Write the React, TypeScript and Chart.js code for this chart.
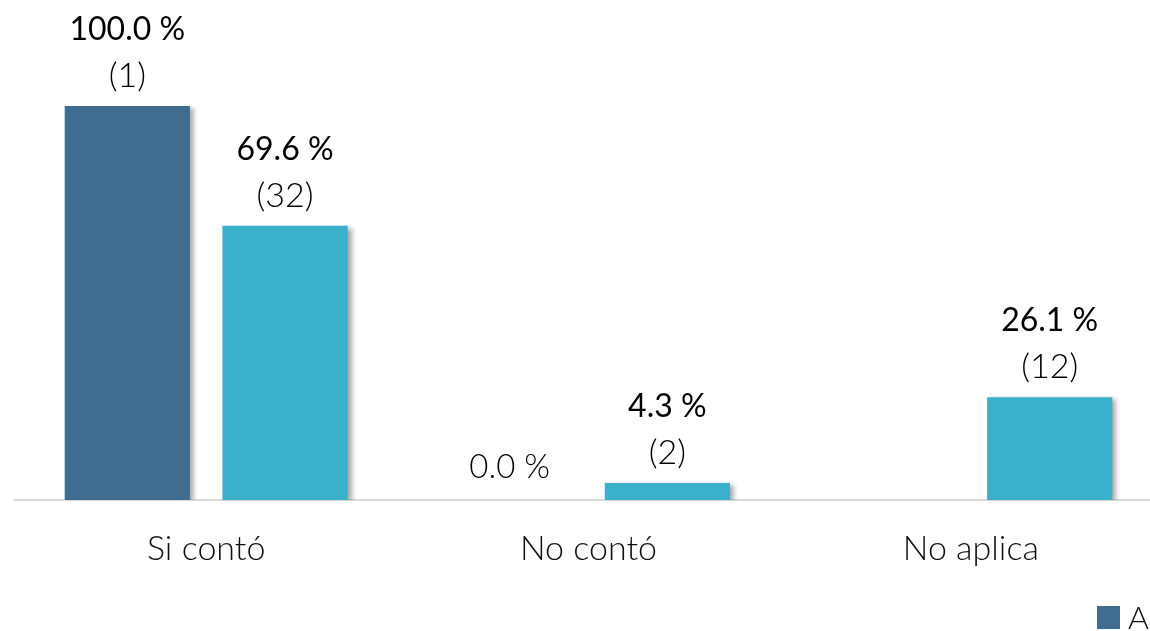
import React, { useEffect, useRef } from "react";
import { Chart, registerables } from "chart.js";

Chart.register(...registerables);

const categories = ["Si contó", "No contó", "No aplica"];
const seriesNames = ["A", "B"];
const valuesA: (number | null)[] = [100.0, 0.0, null];
const valuesB: (number | null)[] = [69.6, 4.3, 26.1];
const countsA: (number | null)[] = [1, 0, null];
const countsB: (number | null)[] = [32, 2, 12];
const colorA = "#3f6c8f";
const colorB = "#3ab0ca";
const FONT = "Lato, 'Open Sans', sans-serif";

const counts = [countsA, countsB];

const shadowPlugin = {
  id: "barShadow",
  beforeDatasetDraw(chart: any) {
    const ctx = chart.ctx;
    ctx.save();
    ctx.shadowColor = "rgba(0,0,0,0.35)";
    ctx.shadowBlur = 5;
    ctx.shadowOffsetX = 4;
    ctx.shadowOffsetY = 2;
  },
  afterDatasetDraw(chart: any) {
    chart.ctx.restore();
  },
};

const labelPlugin = {
  id: "barLabels",
  afterDatasetsDraw(chart: any) {
    const ctx = chart.ctx;
    chart.data.datasets.forEach((ds: any, di: number) => {
      const meta = chart.getDatasetMeta(di);
      meta.data.forEach((bar: any, i: number) => {
        const v = ds.data[i];
        if (v == null) return;
        const x = bar.x;
        const y = bar.y;
        ctx.save();
        ctx.textAlign = "center";
        ctx.textBaseline = "alphabetic";
        ctx.fillStyle = "#000000";
        const pct = v.toFixed(1) + " %";
        if (v === 0) {
          ctx.font = `300 33px ${FONT}`;
          ctx.fillText(pct, x, y - 22);
        } else {
          ctx.font = `400 32px ${FONT}`;
          ctx.fillText(pct, x, y - 66);
          ctx.font = `300 34px ${FONT}`;
          ctx.fillText(`(${counts[di][i]})`, x, y - 19);
        }
        ctx.restore();
      });
    });
  },
};

export default function App() {
  const ref = useRef<HTMLCanvasElement | null>(null);
  useEffect(() => {
    if (!ref.current) return;
    const chart = new Chart(ref.current, {
      type: "bar",
      data: {
        labels: categories,
        datasets: [
          { label: seriesNames[0], data: valuesA, backgroundColor: colorA },
          { label: seriesNames[1], data: valuesB, backgroundColor: colorB },
        ],
      },
      options: {
        animation: false,
        responsive: false,
        devicePixelRatio: 1,
        layout: { padding: { left: 15, right: 38, top: 106, bottom: 0 } },
        datasets: { bar: { categoryPercentage: 0.825, barPercentage: 0.794 } },
        plugins: { legend: { display: false }, tooltip: { enabled: false } },
        scales: {
          x: {
            grid: { display: false, drawTicks: false },
            border: { display: true, color: "#d9d9d9", width: 2 },
            ticks: { color: "#111111", font: { family: FONT, size: 34, weight: "300" as any }, padding: 29 },
            afterFit: (scale: any) => { scale.height = 131; },
          },
          y: { display: false, min: 0, max: 100 },
        },
      },
      plugins: [shadowPlugin, labelPlugin],
    });
    return () => chart.destroy();
  }, []);

  const legendText: React.CSSProperties = {
    fontFamily: FONT, fontWeight: 300, fontSize: 32, lineHeight: "32px", color: "#111111", marginLeft: 8, marginRight: 16,
  };
  const sq = (c: string): React.CSSProperties => ({ width: 23, height: 23, background: c, display: "inline-block" });

  return (
    <div style={{ position: "fixed", left: 0, top: 0, width: 1150, height: 631, overflow: "hidden", background: "#fff" }}>
      <canvas ref={ref} width={1200} height={631} style={{ width: 1200, height: 631, display: "block" }} />
      <div style={{ position: "absolute", left: 1097, top: 601, display: "flex", alignItems: "center", whiteSpace: "nowrap" }}>
        <span style={sq(colorA)} />
        <span style={legendText}>{seriesNames[0]}</span>
        <span style={sq(colorB)} />
        <span style={legendText}>{seriesNames[1]}</span>
      </div>
    </div>
  );
}
